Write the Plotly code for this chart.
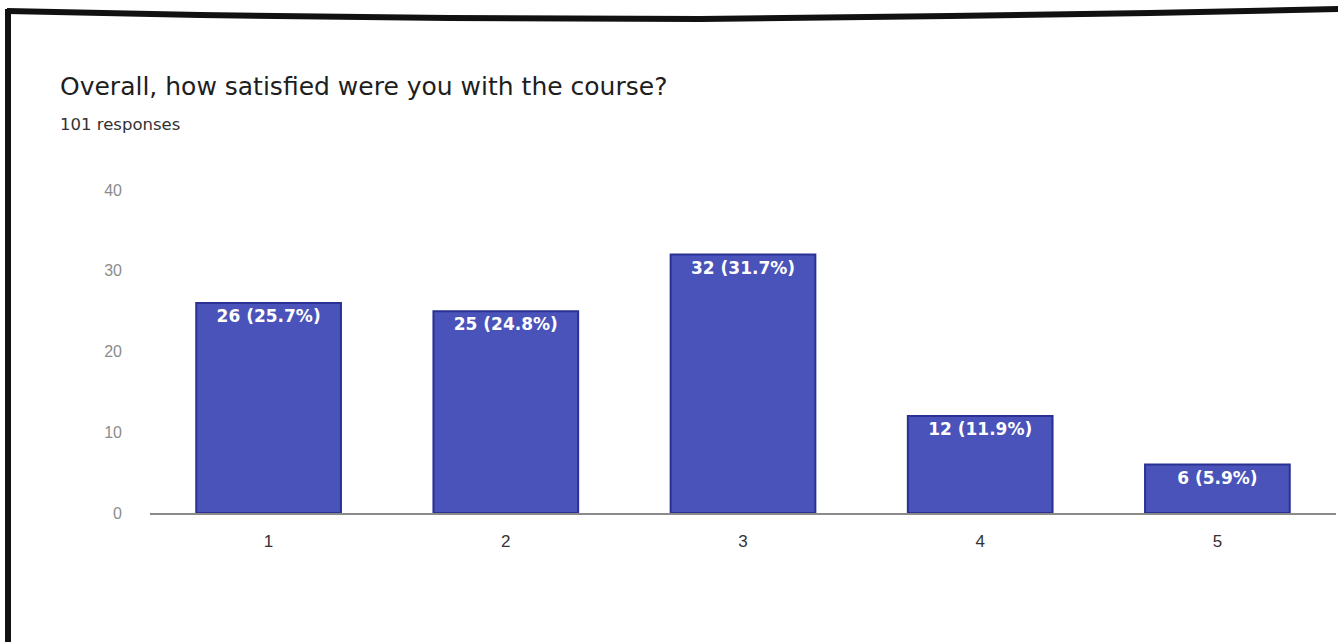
import plotly.graph_objects as go

# Survey results: satisfaction rating 1-5
ratings = ["1", "2", "3", "4", "5"]
counts = [26, 25, 32, 12, 6]
total_responses = 101
y_ticks = [0, 10, 20, 30, 40]

title_text = "Overall, how satisfied were you with the course?"
subtitle_text = f"{total_responses} responses"

labels = [f"{c} ({c / total_responses * 100:.1f}%)" for c in counts]

W, H = 1338, 642
ML, MR, MT, MB = 150, 2, 190, 129
PW, PH = W - ML - MR, H - MT - MB


def px_x(px):
    return (px - ML) / PW


def px_y(py):
    return (H - MB - py) / PH


fig = go.Figure(
    go.Bar(
        x=ratings,
        y=counts,
        text=labels,
        textposition="inside",
        insidetextanchor="end",
        textangle=0,
        textfont=dict(family="DejaVu Sans", size=17, color="white", weight="bold"),
        marker=dict(color="#4953b9", line=dict(color="#2b3192", width=2)),
        width=0.61,
        hoverinfo="skip",
    )
)

fig.update_layout(
    width=W,
    height=H,
    margin=dict(l=ML, r=MR, t=MT, b=MB),
    paper_bgcolor="white",
    plot_bgcolor="white",
    showlegend=False,
    xaxis=dict(
        type="category",
        range=[-0.5, 4.5],
        showgrid=False,
        showline=True,
        linecolor="#8a8a8a",
        linewidth=1.5,
        layer="below traces",
        ticks="",
        ticklabelstandoff=12,
        tickfont=dict(family="Liberation Sans, Arial", size=17, color="#333333"),
        zeroline=False,
    ),
    yaxis=dict(
        range=[0, 40],
        tickvals=y_ticks,
        showgrid=False,
        zeroline=False,
        showline=False,
        ticks="",
        ticklabelstandoff=27,
        tickfont=dict(family="Liberation Sans, Arial", size=16, color="#8c8c8c"),
    ),
)

# Heading and response count
fig.add_annotation(
    x=px_x(58), y=px_y(86), xref="paper", yref="paper",
    xanchor="left", yanchor="middle", showarrow=False,
    text=title_text,
    font=dict(family="DejaVu Sans", size=25, color="#1e1e1e"),
)
fig.add_annotation(
    x=px_x(58), y=px_y(124), xref="paper", yref="paper",
    xanchor="left", yanchor="middle", showarrow=False,
    text=subtitle_text,
    font=dict(family="DejaVu Sans", size=16.5, color="#333333"),
)

# Black frame along the top and left edges
top_pts = [(7, 11), (200, 15), (450, 18), (700, 19), (950, 16), (1150, 13), (1338, 9)]
path = "M " + " L ".join(f"{px_x(a):.5f},{px_y(b):.5f}" for a, b in top_pts)
fig.add_shape(type="path", path=path, xref="paper", yref="paper",
              line=dict(color="#111111", width=6), layer="above")
fig.add_shape(type="line", x0=px_x(8), y0=px_y(9), x1=px_x(8), y1=px_y(645),
              xref="paper", yref="paper",
              line=dict(color="#111111", width=6), layer="above")

fig.write_html("out.html")
